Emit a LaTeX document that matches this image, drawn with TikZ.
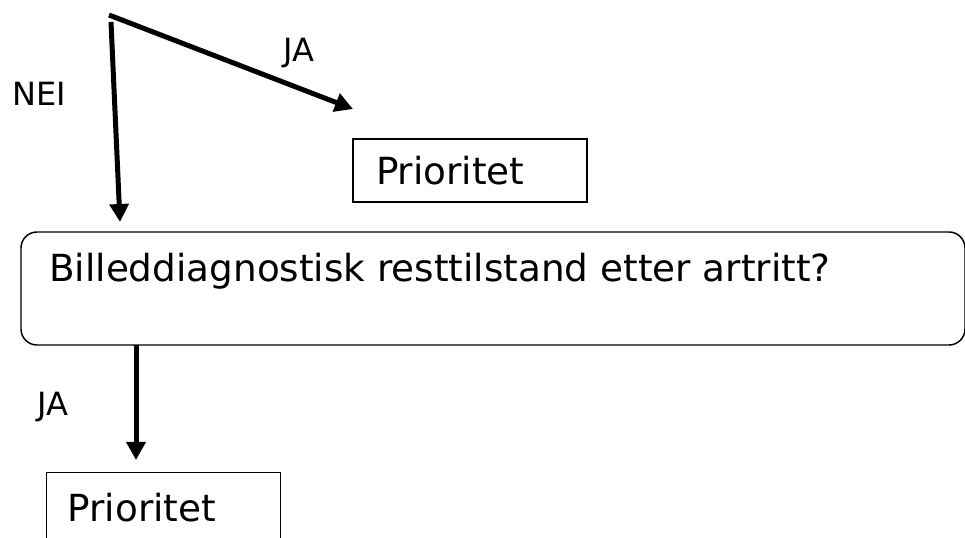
\documentclass[tikz,border=0pt]{standalone}
\usepackage{fontspec}
\setmainfont{DejaVu Sans}
\usetikzlibrary{arrows.meta}

\begin{document}
\begin{tikzpicture}[x=0.75pt,y=-0.75pt,
  flow/.style={line width=3.75pt, -{Triangle[length=13.5pt,width=14pt]}},
  boxtext/.style={font=\fontsize{28}{33}\selectfont},
  labeltext/.style={font=\fontsize{24}{28}\selectfont, inner sep=0pt},
  prio/.style={draw, line width=1.1pt, boxtext, align=left,
    text width=141pt, inner xsep=17.25pt, minimum height=47.25pt},
  qbox/.style={draw, line width=1.1pt, rounded corners=12pt,
    minimum width=708pt, minimum height=84.75pt, inner sep=0pt},
]
\clip (0,0) rectangle (965,538);

% start points of the two branches
\coordinate (jaStart) at (109,15);
\coordinate (neiStart) at (111,22);
\coordinate (jaTip) at (353,109);
\coordinate (neiTip) at (120,222);

% upper result box
\node[prio] (prio1) at (470,170.5) {Prioritet};

% question box
\node[qbox] (q) at (493,288.5) {};
\node[boxtext, anchor=base west, inner sep=0pt] (qtext) at (49,282)
  {Billeddiagnostisk resttilstand etter artritt?};

% lower result box
\node[prio, anchor=north west, minimum height=52.5pt,
  text width=144pt, inner xsep=15.75pt] (prio2) at (46,472) {Prioritet};

\coordinate (qOut) at (136,345);
\coordinate (qTip) at (136,460);

% connectors
\draw[flow] (jaStart) -- (jaTip);
\draw[flow] (neiStart) -- (neiTip);
\draw[flow] (qOut) -- (qTip);

% branch labels
\node[labeltext, anchor=base west] (ja1) at (283,62) {JA};
\node[labeltext, anchor=base west] (nei) at (12,106) {NEI};
\node[labeltext, anchor=base west] (ja2) at (37,416) {JA};
\end{tikzpicture}
\end{document}
